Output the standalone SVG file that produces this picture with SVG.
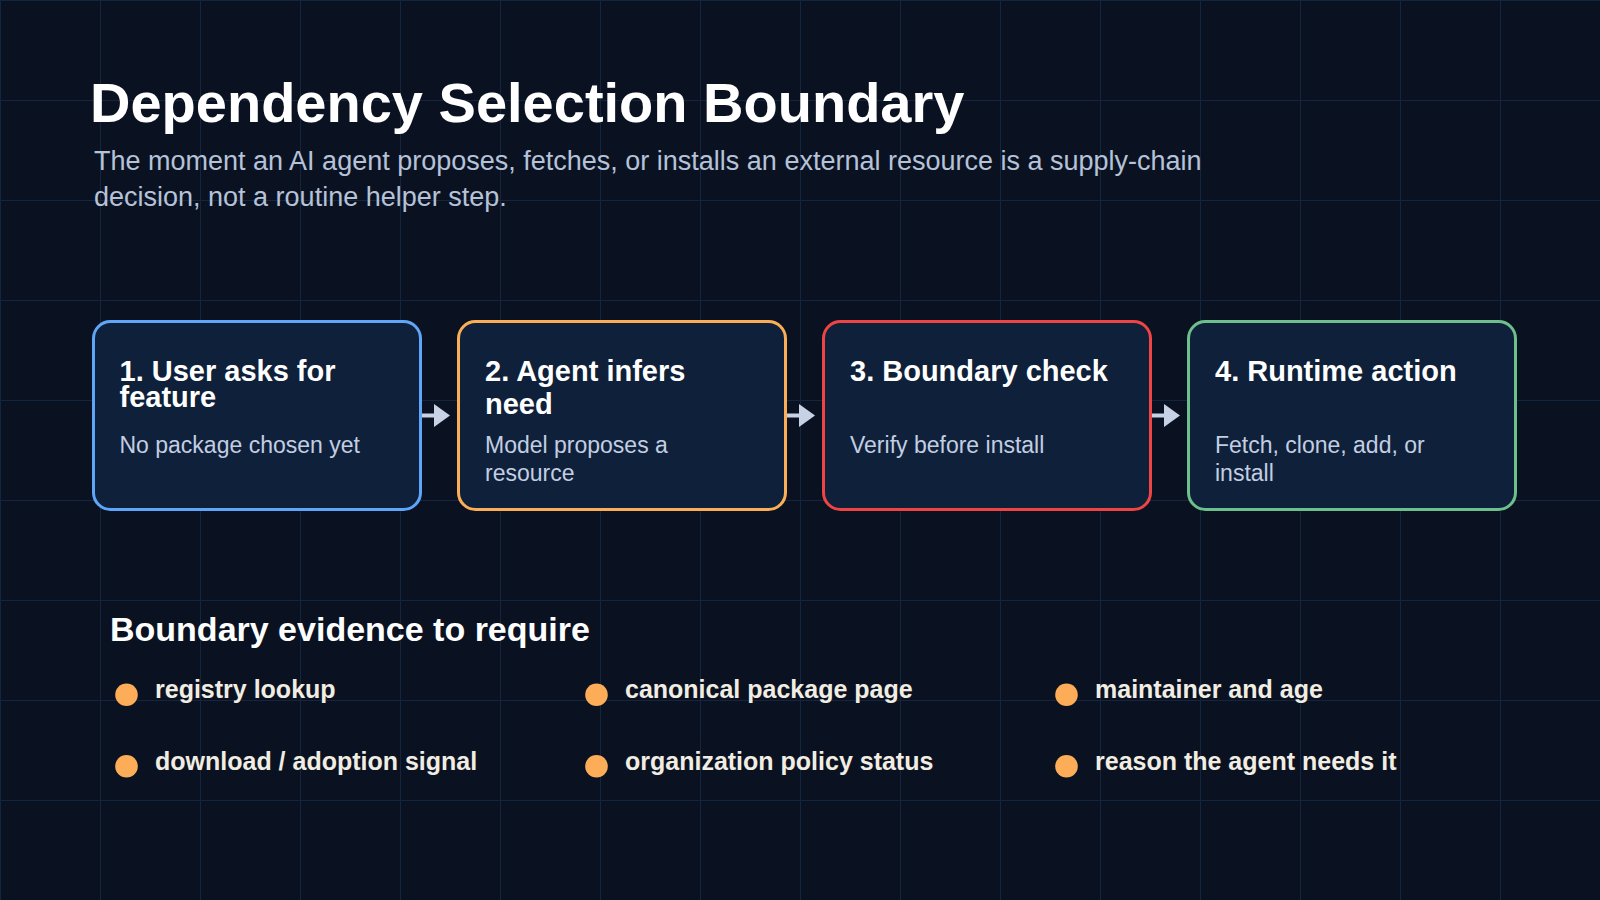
<svg xmlns="http://www.w3.org/2000/svg" width="1600" height="900" viewBox="0 0 1600 900">
  <defs>
    <pattern id="grid" width="100" height="100" patternUnits="userSpaceOnUse">
      <path d="M0 0.5 H100 M0.5 0 V100" fill="none" stroke="#14263f" stroke-width="1"/>
    </pattern>
    <style>
      .title { font-family: "Liberation Sans", Arial, sans-serif; font-weight: bold; font-size: 56px; fill: #ffffff; }
      .sub { font-family: "Liberation Sans", Arial, sans-serif; font-size: 27px; fill: #b6c2d8; }
      .box { fill: #0f213a; stroke-width: 3; }
      .bt { font-family: "Liberation Sans", Arial, sans-serif; font-weight: bold; font-size: 29px; fill: #ffffff; }
      .bd { font-family: "Liberation Sans", Arial, sans-serif; font-size: 23px; fill: #c3cee2; }
      .h2 { font-family: "Liberation Sans", Arial, sans-serif; font-weight: bold; font-size: 34px; fill: #ffffff; }
      .li { font-family: "Liberation Sans", Arial, sans-serif; font-weight: bold; font-size: 25px; fill: #f2ede2; }
      .dot { fill: #fdad58; }
      .arrow line { stroke: #c8d2e6; stroke-width: 4; }
      .arrow polygon { fill: #c8d2e6; }
    </style>
  </defs>

  <rect x="0" y="0" width="1600" height="900" fill="#0a1222"/>
  <rect x="0" y="0" width="1600" height="900" fill="url(#grid)"/>

  <g id="header">
    <text class="title" x="90" y="122">Dependency Selection Boundary</text>
    <text class="sub" x="94" y="170">The moment an AI agent proposes, fetches, or installs an external resource is a supply-chain</text>
    <text class="sub" x="94" y="206">decision, not a routine helper step.</text>
  </g>

  <g id="connectors">
    <g class="arrow">
      <line x1="422" y1="415.5" x2="436" y2="415.5"/>
      <polygon points="434,404 450,415.5 434,427"/>
    </g>
    <g class="arrow">
      <line x1="787" y1="415.5" x2="801" y2="415.5"/>
      <polygon points="799,404 815,415.5 799,427"/>
    </g>
    <g class="arrow">
      <line x1="1152" y1="415.5" x2="1166" y2="415.5"/>
      <polygon points="1164,404 1180,415.5 1164,427"/>
    </g>
  </g>

  <g id="step1">
    <rect class="box" x="93.5" y="321.5" width="327" height="188" rx="17" stroke="#5fa6f8"/>
    <text class="bt" x="119.5" y="380.5">1. User asks for</text>
    <text class="bt" x="119.5" y="407.3">feature</text>
    <text class="bd" x="119.5" y="453">No package chosen yet</text>
  </g>

  <g id="step2">
    <rect class="box" x="458.5" y="321.5" width="327" height="188" rx="17" stroke="#fbae55"/>
    <text class="bt" x="485" y="380.5">2. Agent infers</text>
    <text class="bt" x="485" y="413.5">need</text>
    <text class="bd" x="485" y="453">Model proposes a</text>
    <text class="bd" x="485" y="481">resource</text>
  </g>

  <g id="step3">
    <rect class="box" x="823.5" y="321.5" width="327" height="188" rx="17" stroke="#ef4444"/>
    <text class="bt" x="850" y="380.5">3. Boundary check</text>
    <text class="bd" x="850" y="453">Verify before install</text>
  </g>

  <g id="step4">
    <rect class="box" x="1188.5" y="321.5" width="327" height="188" rx="17" stroke="#6dbf8c"/>
    <text class="bt" x="1215" y="380.5">4. Runtime action</text>
    <text class="bd" x="1215" y="453">Fetch, clone, add, or</text>
    <text class="bd" x="1215" y="481">install</text>
  </g>

  <g id="evidence">
    <text class="h2" x="110" y="641">Boundary evidence to require</text>
    <circle class="dot" cx="126.5" cy="694.8" r="11.3"/>
    <text class="li" x="155" y="697.5">registry lookup</text>
    <circle class="dot" cx="596.5" cy="694.8" r="11.3"/>
    <text class="li" x="625" y="697.5">canonical package page</text>
    <circle class="dot" cx="1066.5" cy="694.8" r="11.3"/>
    <text class="li" x="1095" y="697.5">maintainer and age</text>
    <circle class="dot" cx="126.5" cy="766.3" r="11.3"/>
    <text class="li" x="155" y="770">download / adoption signal</text>
    <circle class="dot" cx="596.5" cy="766.3" r="11.3"/>
    <text class="li" x="625" y="770">organization policy status</text>
    <circle class="dot" cx="1066.5" cy="766.3" r="11.3"/>
    <text class="li" x="1095" y="770">reason the agent needs it</text>
  </g>
</svg>
